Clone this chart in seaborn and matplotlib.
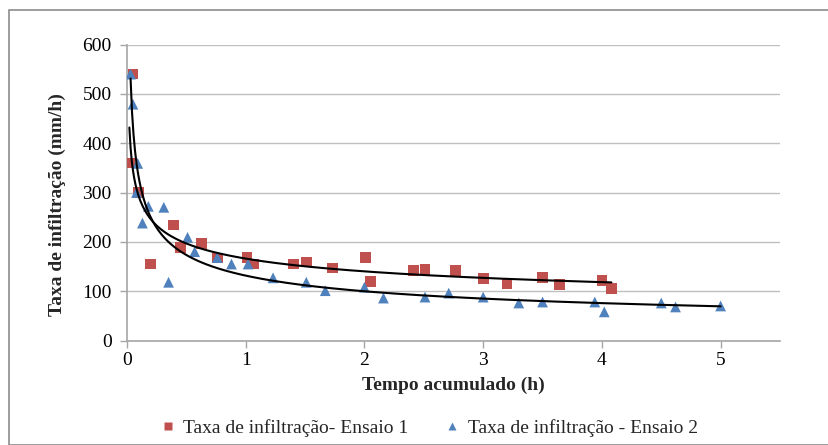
import numpy as np
import pandas as pd
import matplotlib
matplotlib.use("Agg")
import matplotlib.pyplot as plt
import seaborn as sns
from matplotlib.patches import Rectangle

# Ensaio 1 (red squares)
t1 = [0.02, 0.05, 0.10, 0.20, 0.39, 0.45, 0.63, 0.76, 1.01, 1.07, 1.40, 1.51, 1.73,
      2.01, 2.05, 2.41, 2.51, 2.77, 3.00, 3.20, 3.50, 3.64, 4.00, 4.08]
r1 = [360, 540, 300, 155, 234, 189, 197, 167, 169, 155, 155, 159, 147,
      169, 120, 142, 144, 142, 125, 115, 128, 113, 121, 106]
# Ensaio 2 (blue triangles)
t2 = [0.03, 0.05, 0.09, 0.08, 0.13, 0.18, 0.31, 0.35, 0.51, 0.57, 0.76, 0.88, 1.02,
      1.23, 1.51, 1.67, 2.00, 2.16, 2.51, 2.71, 3.00, 3.30, 3.50, 3.94, 4.02, 4.50, 4.62, 5.00]
r2 = [540, 479, 359, 300, 238, 272, 270, 118, 209, 180, 168, 155, 155,
      127, 118, 101, 108, 86, 88, 96, 88, 76, 78, 78, 58, 76, 68, 70]

label1 = "Taxa de infiltração- Ensaio 1"
label2 = "Taxa de infiltração - Ensaio 2"
xticks = [0, 1, 2, 3, 4, 5]
yticks = [0, 100, 200, 300, 400, 500, 600]

df = pd.concat([
    pd.DataFrame({"t": t1, "r": r1, "serie": label1}),
    pd.DataFrame({"t": t2, "r": r2, "serie": label2}),
])

sns.set_theme(style="white")
plt.rcParams["font.family"] = ["Liberation Serif", "DejaVu Serif"]

fig = plt.figure(figsize=(8.29, 4.45), dpi=100)
ax = fig.add_axes([127/829, 1 - 340.5/445, (780 - 127)/829, (340.5 - 44.5)/445])

red = "#C0504D"
blue = "#4F81BD"

sns.scatterplot(data=df, x="t", y="r", hue="serie", style="serie",
                palette={label1: red, label2: blue},
                markers={label1: "s", label2: "^"},
                s=60, edgecolor="none", ax=ax, legend=True, zorder=3)
handles, labels = ax.get_legend_handles_labels()
if ax.get_legend() is not None:
    ax.get_legend().remove()

# power trendlines (log-log least squares), over each data range
for t, r in ((t1, r1), (t2, r2)):
    t = np.asarray(t, float); r = np.asarray(r, float)
    b, lna = np.polyfit(np.log(t), np.log(r), 1)
    xs = np.linspace(t.min(), t.max(), 400)
    ax.plot(xs, np.exp(lna) * xs ** b, color="black", lw=1.5, zorder=4)

ax.set_xlim(0, 5.5)
ax.set_ylim(0, 600)
ax.set_xticks(xticks)
ax.set_yticks(yticks)
ax.yaxis.grid(True, color="#BFBFBF", lw=1)
ax.xaxis.grid(False)
for side in ("top", "right"):
    ax.spines[side].set_visible(False)
for side in ("left", "bottom"):
    ax.spines[side].set_color("#A6A6A6")
    ax.spines[side].set_linewidth(1.2)
ax.tick_params(axis="both", which="major", length=5, width=1, color="#A6A6A6",
               direction="out", labelsize=14, labelcolor="black",
               bottom=True, left=True)
ax.tick_params(axis="y", pad=6)
ax.tick_params(axis="x", pad=3)
ax.set_xlabel("Tempo acumulado (h)", fontsize=14, fontweight="bold", labelpad=6)
ax.set_ylabel("Taxa de infiltração (mm/h)", fontsize=14, fontweight="bold")
ax.yaxis.set_label_coords(-0.094, 0.46)

leg = fig.legend(handles, labels, loc="center", bbox_to_anchor=(428/829, 1 - 428/445),
                 ncol=2, frameon=False, fontsize=14, handlelength=1.0,
                 handletextpad=0.3, columnspacing=1.75, markerscale=0.75,
                 borderaxespad=0, borderpad=0)

fig.patches.append(Rectangle((9/829, 0), 1, 1 - 10/445, transform=fig.transFigure,
                             fill=False, edgecolor="#8C8C8C", lw=1.2, zorder=0))

fig.savefig("out.png", dpi=100)
